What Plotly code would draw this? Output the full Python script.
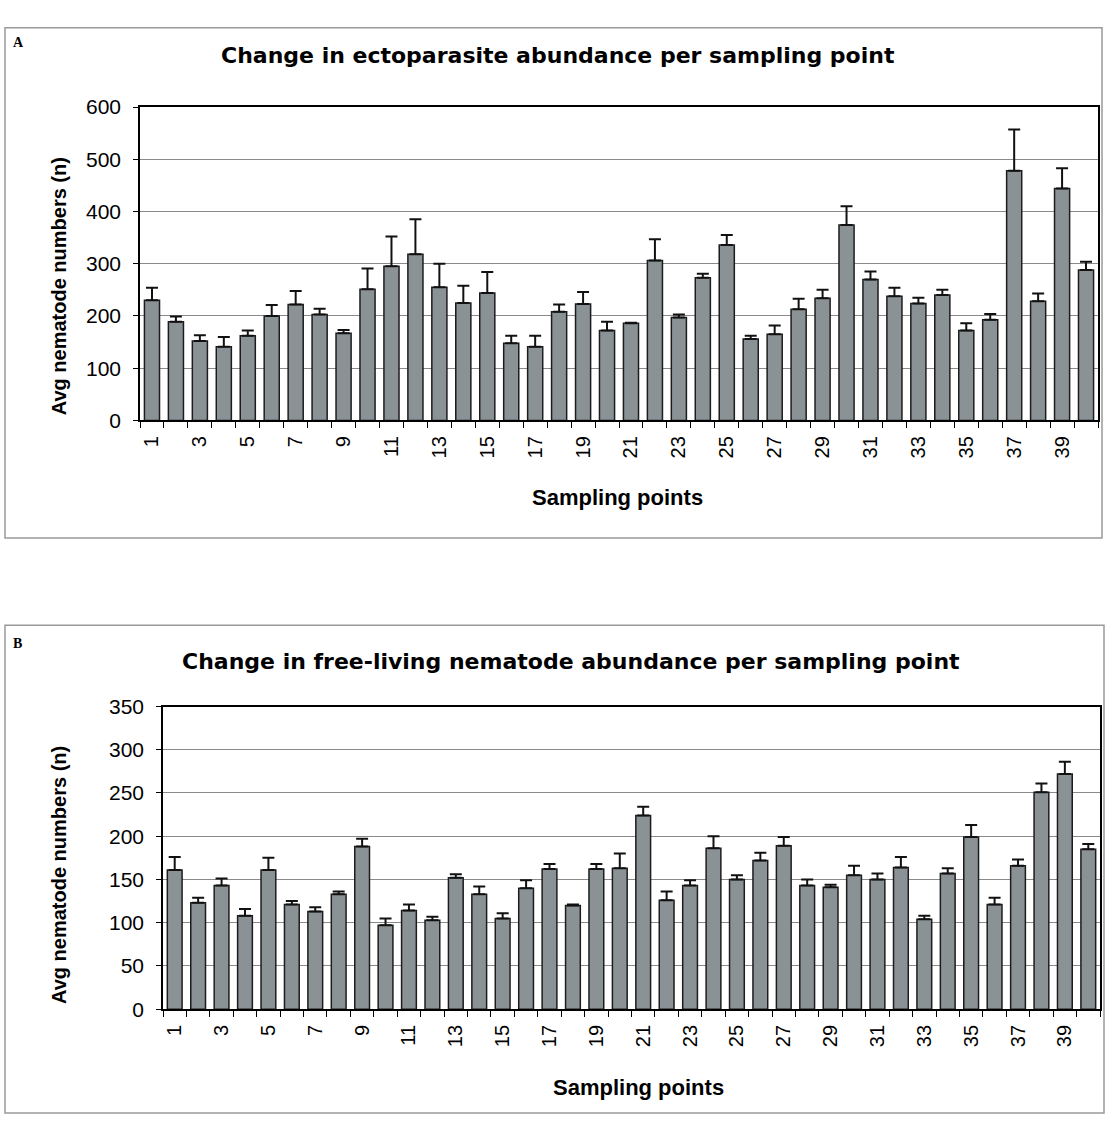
import plotly.graph_objects as go

W, H = 1107, 1126

sampling_points = list(range(1, 41))
tick_vals = [1, 3, 5, 7, 9, 11, 13, 15, 17, 19, 21, 23, 25, 27, 29, 31, 33, 35, 37, 39]
tick_text = ["1", "3", "5", "7", "9", "11", "13", "15", "17", "19", "21", "23", "25", "27",
             "29", "31", "33", "35", "37", "39"]

# Panel A: ectoparasites (mean and upper error)
ecto_mean = [230, 189, 152, 141, 162, 200, 222, 203, 167, 251,
             295, 318, 255, 225, 244, 148, 141, 208, 223, 172,
             186, 306, 197, 273, 336, 156, 165, 213, 234, 374,
             270, 238, 224, 240, 172, 193, 478, 228, 444, 288]
ecto_err = [24, 10, 11, 19, 10, 21, 26, 11, 6, 40,
            57, 67, 45, 33, 40, 14, 21, 14, 23, 17,
            1, 41, 6, 8, 19, 6, 17, 20, 16, 36,
            15, 16, 11, 10, 14, 11, 79, 15, 39, 16]

# Panel B: free-living nematodes (mean and upper error)
free_mean = [161, 123, 143, 108, 161, 121, 113, 133, 188, 97,
             114, 103, 152, 133, 105, 140, 162, 120, 162, 163,
             224, 126, 143, 186, 150, 172, 189, 143, 141, 155,
             150, 164, 104, 157, 199, 121, 166, 251, 272, 185]
free_err = [15, 6, 8, 8, 14, 4, 5, 3, 9, 8,
            7, 4, 4, 9, 6, 9, 6, 1, 6, 17,
            10, 10, 6, 14, 5, 9, 10, 7, 3, 11,
            7, 12, 4, 6, 14, 8, 7, 10, 14, 6]

BAR_FILL = "#8a9296"
BAR_LINE = "#1c1c1c"
FONT = "Liberation Sans, Arial, sans-serif"
TITLE_FONT = "DejaVu Sans, Verdana, sans-serif"


def px(x):
    return x / W


def py(y):
    return 1 - y / H


fig = go.Figure()

for mean, err, xa, ya in [(ecto_mean, ecto_err, "x", "y"), (free_mean, free_err, "x2", "y2")]:
    fig.add_trace(go.Bar(
        x=sampling_points, y=mean, xaxis=xa, yaxis=ya,
        marker=dict(color=BAR_FILL, line=dict(color=BAR_LINE, width=1.5)),
        error_y=dict(type="data", array=err, symmetric=False, arrayminus=[0] * len(err),
                     color="#111111", thickness=2, width=6),
        showlegend=False,
    ))


def xaxis_cfg(domain, anchor):
    return dict(
        domain=domain, anchor=anchor, range=[0.5, 40.5],
        tickmode="array", tickvals=tick_vals, ticktext=tick_text, tickangle=-90,
        ticks="", tickfont=dict(family=FONT, size=20, color="black"),
        ticklabelstandoff=6,
        showline=True, linecolor="black", linewidth=1.5, mirror=True,
        showgrid=False, zeroline=False,
        minor=dict(tickmode="linear", tick0=0.5, dtick=1, ticks="outside",
                   ticklen=6, tickcolor="black", tickwidth=1, showgrid=False),
    )


def yaxis_cfg(domain, anchor, rng, dtick):
    return dict(
        domain=domain, anchor=anchor, range=rng, dtick=dtick, tick0=0,
        ticks="outside", ticklen=5, tickcolor="black",
        tickfont=dict(family=FONT, size=21, color="black"),
        ticklabelstandoff=8,
        showline=True, linecolor="black", linewidth=1.5, mirror=True,
        showgrid=True, gridcolor="#8a8a8a", gridwidth=1, zeroline=False,
    )


fig.update_layout(
    width=W, height=H,
    margin=dict(l=0, r=0, t=0, b=0),
    paper_bgcolor="white", plot_bgcolor="white",
    bargap=0.37,
    xaxis=xaxis_cfg([px(140), px(1098)], "y"),
    yaxis=yaxis_cfg([py(417), py(97)], "x", [0, 600], 100),
    xaxis2=xaxis_cfg([px(163), px(1100)], "y2"),
    yaxis2=yaxis_cfg([py(1018), py(709)], "x2", [0, 350], 50),
)

# Panel frames
for (x0, y0, x1, y1) in [(5, 16, 1102, 537), (5, 626, 1104, 1124)]:
    fig.add_shape(type="rect", xref="paper", yref="paper",
                  x0=px(x0), x1=px(x1), y0=py(y1), y1=py(y0),
                  line=dict(color="#9a9a9a", width=1.5), fillcolor="rgba(0,0,0,0)")

annotations = [
    ("A", 18, 31, "Liberation Serif, Times New Roman, serif", 14, 0),
    ("B", 17, 645, "Liberation Serif, Times New Roman, serif", 14, 0),
    ("Change in ectoparasite abundance per sampling point", 558, 44, TITLE_FONT, 22, 0),
    ("Change in free-living nematode abundance per sampling point", 571, 663, TITLE_FONT, 22, 0),
    ("Avg nematode numbers (n)", 59, 280, FONT, 20, -90),
    ("Avg nematode numbers (n)", 59, 881, FONT, 20, -90),
    ("Sampling points", 617, 496, FONT, 22, 0),
    ("Sampling points", 638, 1098, FONT, 22, 0),
]
for text, x, y, fam, size, ang in annotations:
    fig.add_annotation(text="<b>%s</b>" % text, xref="paper", yref="paper",
                       x=px(x), y=py(y), xanchor="center", yanchor="middle",
                       showarrow=False, textangle=ang,
                       font=dict(family=fam, size=size, color="black"))

fig.write_html(
    "out.html",
    config={"displayModeBar": False},
    post_script=(
        "var d=document.getElementById('{plot_id}');"
        "d.style.position='absolute';d.style.top='0px';d.style.left='0px';"
        "document.body.style.margin='0';document.body.style.overflow='hidden';"
        "document.documentElement.style.overflow='hidden';"
    ),
)
